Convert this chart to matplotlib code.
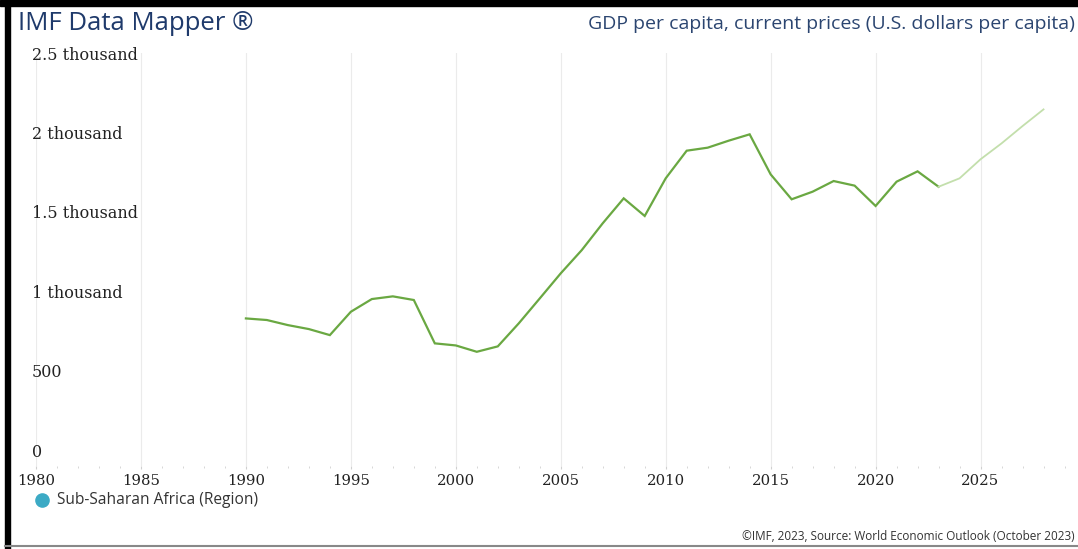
import matplotlib
matplotlib.use('Agg')
import matplotlib.pyplot as plt
from matplotlib.lines import Line2D
from matplotlib.patches import Rectangle

# GDP per capita, Sub-Saharan Africa (U.S. dollars), actuals and projections
years_actual = list(range(1990, 2024))
gdp_actual = [829, 819, 787, 762, 724, 871, 951, 968, 945, 672,
              659, 619, 653, 798, 955, 1113, 1259, 1428, 1585, 1474,
              1711, 1885, 1904, 1948, 1988, 1736, 1579, 1627, 1694, 1665,
              1537, 1690, 1755, 1658]
years_proj = [2023, 2024, 2025, 2026, 2027, 2028]
gdp_proj = [1658, 1711, 1831, 1931, 2040, 2145]

y_ticks = [0, 500, 1000, 1500, 2000, 2500]
y_labels = ['0', '500', '1 thousand', '1.5 thousand', '2 thousand', '2.5 thousand']
x_ticks = list(range(1980, 2030, 5))

fig = plt.figure(figsize=(10.78, 5.49), dpi=100)
ax = fig.add_axes([36 / 1078, 83 / 549, 1039 / 1078, 413 / 549])

ax.plot(years_actual, gdp_actual, color='#6aa842', lw=1.6, solid_joinstyle='miter')
ax.plot(years_proj, gdp_proj, color='#c3dfac', lw=1.3)

ax.set_xlim(1980, 2029.5)
ax.set_ylim(-100, 2500)

ax.set_xticks(x_ticks)
ax.set_xticks(range(1980, 2030), minor=True)
ax.set_xticklabels([str(x) for x in x_ticks], fontfamily='DejaVu Serif',
                   fontsize=10.7, color='#222222')
ax.tick_params(axis='x', which='major', length=2, color='#d0d0d0', pad=4)
ax.tick_params(axis='x', which='minor', length=1.5, color='#d0d0d0')

ax.set_yticks(y_ticks)
ax.set_yticklabels(y_labels, fontfamily='DejaVu Serif', fontsize=11.5,
                   color='#222222', ha='left')
ax.tick_params(axis='y', length=0, pad=3)

ax.grid(axis='x', color='#ebebeb', lw=0.8)
ax.set_axisbelow(True)
for s in ax.spines.values():
    s.set_visible(False)

# titles
fig.text(18 / 1078, 1 - 24 / 549, 'IMF Data Mapper ®', fontfamily='Open Sans',
         fontsize=18.5, color='#1f3a6b', va='center', ha='left')
fig.text(1075 / 1078, 1 - 24 / 549,
         'GDP per capita, current prices (U.S. dollars per capita)',
         fontfamily='Open Sans', fontsize=14, color='#2b4570', va='center', ha='right')

# legend
fig.add_artist(Line2D([42 / 1078], [1 - 500 / 549], marker='o', markersize=9.5,
                      color='#3caac5', transform=fig.transFigure))
fig.text(57 / 1078, 1 - 500 / 549, 'Sub-Saharan Africa (Region)',
         fontfamily='Open Sans', fontsize=11.2, color='#333333', va='center', ha='left')

fig.text(1075 / 1078, 1 - 537 / 549,
         '©IMF, 2023, Source: World Economic Outlook (October 2023)',
         fontfamily='Open Sans', fontsize=8.5, color='#333333', va='center', ha='right')

# frame
fig.add_artist(Rectangle((0, 1 - 6 / 549), 1, 6 / 549, color='black',
                         transform=fig.transFigure))
fig.add_artist(Rectangle((5 / 1078, 0), 5 / 1078, 1, color='black',
                         transform=fig.transFigure))
fig.add_artist(Line2D([5 / 1078, 1], [3 / 549, 3 / 549], color='#888888', lw=1.5,
                      transform=fig.transFigure))

fig.savefig('out.png', dpi=100)
